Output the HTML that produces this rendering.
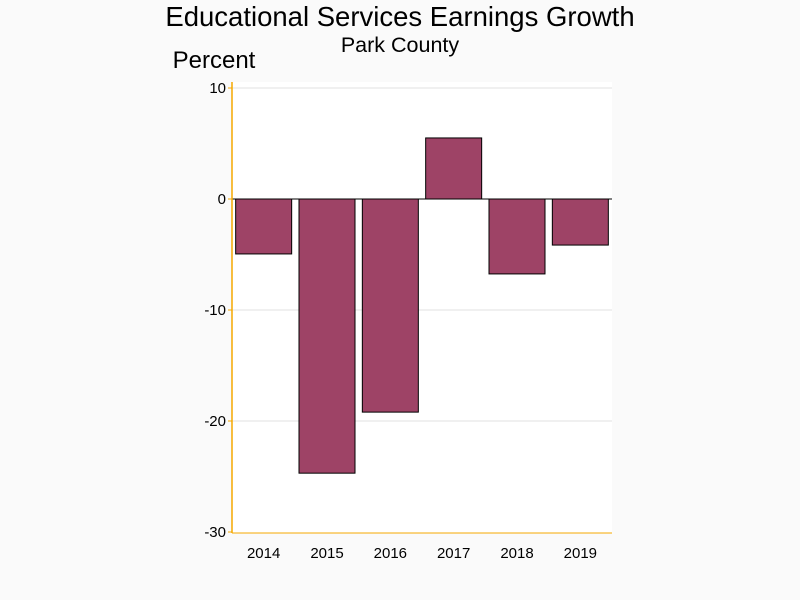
<!DOCTYPE html>
<html><head><meta charset="utf-8"><style>
body{margin:0;background:#fafafa;font-family:"Liberation Sans",sans-serif;}
svg{display:block}
</style></head><body>
<svg width="800" height="600" id="chart">
<rect x="0" y="0" width="800" height="600" fill="#fafafa"/>
<rect x="232" y="82" width="380" height="451" fill="#ffffff"/>
<text x="400" y="26" text-anchor="middle" font-size="27.5" fill="#000">Educational Services Earnings Growth</text>
<text x="400" y="52" text-anchor="middle" font-size="21.5" fill="#000">Park County</text>
<text x="214" y="68" text-anchor="middle" font-size="24" fill="#000">Percent</text>
<g id="grid"></g><g id="bars"></g><g id="axes"></g>
</svg>
<script>
const categories=["2014","2015","2016","2017","2018","2019"];
const values=[-4.95,-24.7,-19.2,5.5,-6.75,-4.15];
const yTicks=[10,0,-10,-20,-30];
const ns="http://www.w3.org/2000/svg";
const x0=232,x1=612,yTop=88,yBot=532,vMax=10,vMin=-30;
function y(v){return yTop+(vMax-v)/(vMax-vMin)*(yBot-yTop);}
const step=(x1-x0)/categories.length;
function xc(i){return x0+step*(i+0.5);}
function mk(t,a,p){const e=document.createElementNS(ns,t);for(const k in a)e.setAttribute(k,a[k]);p.appendChild(e);return e;}
const grid=document.getElementById('grid'),bars=document.getElementById('bars'),axes=document.getElementById('axes');
yTicks.forEach(v=>{
  if(v!==0&&v!==vMin){const g=mk('line',{x1:x0,x2:x1,y1:y(v),y2:y(v),stroke:'#e2e2e2','stroke-width':1},grid);
  
  }
  const t=mk('line',{x1:x0-4,x2:x0,y1:y(v),y2:y(v),stroke:'#f5a800','stroke-width':1},axes);
  
  
  const l=mk('text',{x:x0-6,y:y(v)+5,'text-anchor':'end','font-size':15,fill:'#000'},axes);l.textContent=v;
  
  
});
values.forEach((v,i)=>{
  const top=Math.min(y(v),y(0)),h=Math.abs(y(v)-y(0));
  const r=mk('rect',{x:xc(i)-28,y:top,width:56,height:h,fill:'#9e4366',stroke:'#000','stroke-width':1},bars);
  
  
  const l=mk('text',{x:xc(i),y:558,'text-anchor':'middle','font-size':15,fill:'#000'},axes);l.textContent=categories[i];
  
  
});
const z=mk('line',{x1:x0,x2:x1,y1:y(0),y2:y(0),stroke:'#000','stroke-width':1},axes);


const ya=mk('line',{x1:x0,x2:x0,y1:82,y2:533,stroke:'#f5a800','stroke-width':1.5},axes);


const xa=mk('line',{x1:x0,x2:x1,y1:533,y2:533,stroke:'#f5a800','stroke-width':1},axes);


</script>
</body></html>
